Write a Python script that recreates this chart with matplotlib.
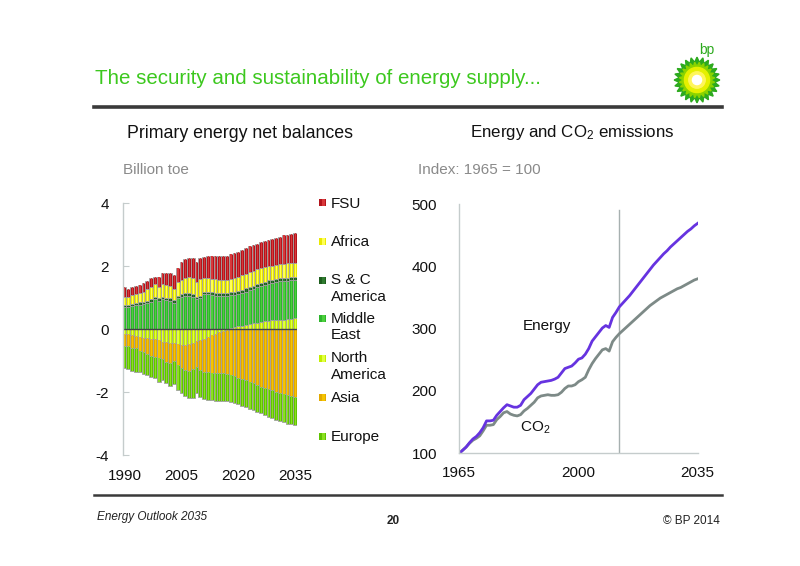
import numpy as np
import matplotlib
matplotlib.use("Agg")
import matplotlib.pyplot as plt
from matplotlib.lines import Line2D
from matplotlib.patches import Rectangle, Polygon, Circle

plt.rcParams['font.family'] = ['Liberation Sans', 'DejaVu Sans']
plt.rcParams['mathtext.default'] = 'regular'

# ---------------- data: primary energy net balances (Billion toe) ----------------
years = list(range(1990, 2036))
fsu = [0.29, 0.25, 0.24, 0.26, 0.26, 0.26, 0.27, 0.29, 0.24, 0.32,
       0.37, 0.39, 0.44, 0.44, 0.47, 0.56, 0.61, 0.62, 0.63, 0.64,
       0.66, 0.69, 0.71, 0.73, 0.75, 0.77, 0.77, 0.77, 0.79, 0.79,
       0.81, 0.82, 0.82, 0.82, 0.82, 0.82, 0.82, 0.83, 0.84, 0.85,
       0.87, 0.88, 0.90, 0.92, 0.93, 0.95]
africa = [0.27, 0.26, 0.28, 0.28, 0.29, 0.32, 0.37, 0.37, 0.39, 0.37,
          0.39, 0.40, 0.38, 0.35, 0.42, 0.45, 0.48, 0.51, 0.52, 0.45,
          0.52, 0.42, 0.42, 0.43, 0.43, 0.43, 0.42, 0.42, 0.42, 0.43,
          0.44, 0.45, 0.46, 0.47, 0.47, 0.47, 0.47, 0.46, 0.45, 0.44,
          0.43, 0.44, 0.45, 0.45, 0.45, 0.45]
sc_america = [0.07, 0.07, 0.07, 0.08, 0.08, 0.08, 0.08, 0.08, 0.08, 0.08,
              0.08, 0.08, 0.08, 0.08, 0.09, 0.09, 0.09, 0.09, 0.09, 0.09,
              0.09, 0.09, 0.09, 0.09, 0.09, 0.09, 0.09, 0.09, 0.09, 0.09,
              0.10, 0.10, 0.10, 0.10, 0.10, 0.10, 0.10, 0.10, 0.10, 0.10,
              0.10, 0.10, 0.10, 0.10, 0.10, 0.10]
middle_east = [0.69, 0.69, 0.73, 0.76, 0.77, 0.79, 0.81, 0.87, 0.95, 0.89,
               0.95, 0.92, 0.89, 0.84, 0.97, 1.02, 1.04, 1.04, 1.02, 0.94,
               0.97, 1.10, 1.10, 1.08, 1.06, 1.04, 1.04, 1.05, 1.05, 1.04,
               1.03, 1.04, 1.06, 1.07, 1.10, 1.12, 1.14, 1.16, 1.18, 1.20,
               1.22, 1.22, 1.22, 1.22, 1.22, 1.22]
north_america = [-0.17, -0.16, -0.19, -0.22, -0.25, -0.27, -0.30, -0.32, -0.33, -0.36,
                 -0.40, -0.42, -0.44, -0.46, -0.48, -0.50, -0.51, -0.48, -0.44, -0.38,
                 -0.36, -0.32, -0.26, -0.20, -0.15, -0.10, -0.06, -0.02, 0.02, 0.05,
                 0.08, 0.11, 0.13, 0.16, 0.18, 0.20, 0.22, 0.24, 0.26, 0.27,
                 0.28, 0.29, 0.30, 0.31, 0.33, 0.34]
asia = [-0.36, -0.39, -0.40, -0.39, -0.45, -0.45, -0.50, -0.53, -0.55, -0.57,
        -0.55, -0.62, -0.65, -0.56, -0.66, -0.75, -0.79, -0.85, -0.83, -0.82,
        -0.94, -1.03, -1.12, -1.19, -1.25, -1.31, -1.35, -1.40, -1.46, -1.50,
        -1.54, -1.59, -1.63, -1.68, -1.73, -1.78, -1.83, -1.87, -1.91, -1.95,
        -1.99, -2.03, -2.06, -2.09, -2.12, -2.15]
europe = [-0.72, -0.71, -0.74, -0.74, -0.68, -0.72, -0.66, -0.66, -0.69, -0.74,
          -0.67, -0.68, -0.71, -0.74, -0.80, -0.79, -0.82, -0.87, -0.91, -0.84,
          -0.85, -0.87, -0.86, -0.87, -0.88, -0.88, -0.88, -0.88, -0.86, -0.84,
          -0.84, -0.84, -0.85, -0.85, -0.85, -0.85, -0.85, -0.86, -0.87, -0.88,
          -0.89, -0.89, -0.90, -0.91, -0.91, -0.91]
left_xticks = [1990, 2005, 2020, 2035]
left_yticks = [-4, -2, 0, 2, 4]

# ---------------- data: energy and CO2 index (1965 = 100) ----------------
years2 = list(range(1965, 2036))
energy = [100, 105, 110, 117, 123, 127, 133, 141, 152, 152,
          153, 161, 167, 173, 178, 176, 174, 174, 177, 186,
          191, 196, 203, 210, 214, 215, 216, 217, 219, 222,
          229, 236, 238, 240, 245, 251, 253, 259, 268, 280,
          287, 294, 301, 305, 302, 318, 326, 335, 341, 347,
          353, 360, 367, 374, 381, 388, 395, 402, 408, 414,
          420, 425, 431, 436, 441, 446, 451, 456, 460, 465, 469]
co2 = [100, 105, 110, 116, 121, 124, 128, 136, 145, 145,
       146, 154, 159, 165, 167, 163, 161, 160, 162, 168,
       172, 177, 182, 189, 192, 193, 194, 193, 193, 194,
       198, 204, 208, 208, 210, 215, 218, 222, 234, 244,
       252, 259, 266, 268, 264, 279, 286, 292, 297, 302,
       307, 312, 317, 322, 327, 332, 337, 341, 345, 349,
       352, 355, 358, 361, 364, 366, 369, 372, 375, 378, 380]
right_xticks = [1965, 2000, 2035]
right_yticks = [100, 200, 300, 400, 500]
history_end = 2012

# ---------------- styles ----------------
col = {
    'FSU': ('#B3141C', '#D8373A'),
    'Africa': ('#E9E900', '#FFFF55'),
    'S & C\nAmerica': ('#1D5E1D', '#2F7A2F'),
    'Middle\nEast': ('#2DB52D', '#4CCF3C'),
    'North\nAmerica': ('#C2EE00', '#E2FF40'),
    'Asia': ('#E2A900', '#F5C400'),
    'Europe': ('#5FC300', '#8BE020'),
}
W, H = 800, 566
fig = plt.figure(figsize=(W / 100, H / 100), dpi=100)


def fx(px):
    return px / W


def fy(py):
    return 1 - py / H


# header
fig.text(fx(95), fy(79), 'The security and sustainability of energy supply...',
         color='#3CC81E', fontsize=14.8, va='center', ha='left')
fig.add_artist(Line2D([fx(94), fx(722)], [fy(107), fy(107)], color='#3a3a3a', lw=2.6))
fig.add_artist(Line2D([fx(94), fx(722)], [fy(495), fy(495)], color='#3a3a3a', lw=1.8))

# footer
fig.text(fx(97), fy(517), 'Energy Outlook 2035', fontsize=8.5, style='italic',
         color='#222222', va='center')
fig.text(fx(393), fy(521), '20', fontsize=8.5, fontweight='bold', color='#222222',
         va='center', ha='center')
fig.text(fx(720), fy(521), '\u00a9 BP 2014', fontsize=8.5, color='#222222',
         va='center', ha='right')

# logo
lax = fig.add_axes([fx(673), fy(104), fx(48), 48 / H])
lax.set_xlim(-1.05, 1.05)
lax.set_ylim(-1.05, 1.05)
lax.axis('off')
n = 24
ang = np.linspace(0, 2 * np.pi, 2 * n, endpoint=False)
rad = np.where(np.arange(2 * n) % 2 == 0, 1.0, 0.78)
lax.add_patch(Polygon(np.c_[rad * np.cos(ang), rad * np.sin(ang)], closed=True,
                      color='#2DAA1E'))
rad2 = np.where(np.arange(2 * n) % 2 == 0, 0.78, 0.6)
lax.add_patch(Polygon(np.c_[rad2 * np.cos(ang + 0.13), rad2 * np.sin(ang + 0.13)],
                      closed=True, color='#8CD400'))
lax.add_patch(Circle((0, 0), 0.55, color='#E5F000'))
lax.add_patch(Circle((0, 0), 0.36, color='#FFF65A'))
lax.add_patch(Circle((0, 0), 0.2, color='white'))
fig.text(fx(707), fy(50), 'bp', color='#2DAA1E', fontsize=10, ha='center', va='center')

# ---------------- left chart ----------------
ax = fig.add_axes([fx(122.7), fy(455), fx(297 - 122.7), 252 / H])
na = np.array(north_america)
na_pos = np.clip(na, 0, None)
na_neg = np.clip(na, None, 0)
x = np.array(years)

pos_series = [(na_pos, 'North\nAmerica'), (np.array(middle_east), 'Middle\nEast'),
              (np.array(sc_america), 'S & C\nAmerica'), (np.array(africa), 'Africa'),
              (np.array(fsu), 'FSU')]
neg_series = [(na_neg, 'North\nAmerica'), (np.array(asia), 'Asia'),
              (np.array(europe), 'Europe')]

for group in (pos_series, neg_series):
    bottom = np.zeros(len(years))
    for vals, name in group:
        dark, light = col[name]
        ax.bar(x, vals, bottom=bottom, width=1.0, color=dark,
               edgecolor='#a3a3a3', linewidth=0.6)
        ax.bar(x + 0.08, vals, bottom=bottom, width=0.3, color=light,
               edgecolor='none', linewidth=0)
        bottom = bottom + vals

ax.axhline(0, color='#444444', lw=1.0)
ax.set_xlim(1989.5, 2035.5)
ax.set_ylim(-4, 4)
ax.set_xticks(left_xticks)
ax.set_xticklabels([str(v) for v in left_xticks])
ax.set_yticks(left_yticks)
ax.set_yticklabels([str(v) for v in left_yticks])
for s in ['top', 'right', 'bottom']:
    ax.spines[s].set_visible(False)
ax.spines['left'].set_color('#c5cccc')
ax.spines['left'].set_linewidth(1.0)
ax.tick_params(axis='y', direction='in', length=4, color='#c5cccc', pad=10,
               labelsize=11, labelcolor='#111111')
ax.tick_params(axis='x', length=0, pad=10, labelsize=11, labelcolor='#111111')

fig.text(fx(240), fy(133), 'Primary energy net balances', fontsize=12.8,
         ha='center', va='center', color='#111111')
fig.text(fx(123), fy(170), 'Billion toe', fontsize=11, ha='left', va='center',
         color='#8a8a8a')

# legend
legend_items = [('FSU', 203), ('Africa', 241.5), ('S & C\nAmerica', 280),
                ('Middle\nEast', 318.5), ('North\nAmerica', 358), ('Asia', 397),
                ('Europe', 436.5)]
for name, yc in legend_items:
    dark, light = col[name]
    fig.add_artist(Rectangle((fx(319), fy(yc + 3.5)), fx(7), 7 / H,
                             facecolor=dark, edgecolor='none'))
    fig.add_artist(Rectangle((fx(322), fy(yc + 3.5)), fx(2.5), 7 / H,
                             facecolor=light, edgecolor='none'))
    fig.text(fx(331), fy(yc - 6.5), name, fontsize=11, ha='left', va='top',
             color='#111111', linespacing=1.2)

# ---------------- right chart ----------------
ax2 = fig.add_axes([fx(459.3), fy(453.3), fx(697.7 - 459.3), 249.3 / H])
ax2.plot([history_end, history_end], [100, 490], color='#a7b0b0', lw=1.0)
ax2.plot(years2, co2, color='#7D8A87', lw=2.0, solid_joinstyle='round')
ax2.plot(years2, energy, color='#6633E0', lw=2.0, solid_joinstyle='round')
ax2.set_xlim(1965, 2035)
ax2.set_ylim(100, 500)
ax2.set_xticks(right_xticks)
ax2.set_xticklabels([str(v) for v in right_xticks])
ax2.set_yticks(right_yticks)
ax2.set_yticklabels([str(v) for v in right_yticks])
for s in ['top', 'right']:
    ax2.spines[s].set_visible(False)
for s in ['left', 'bottom']:
    ax2.spines[s].set_color('#c5cccc')
    ax2.spines[s].set_linewidth(1.0)
ax2.tick_params(axis='y', length=0, pad=16, labelsize=11, labelcolor='#111111')
ax2.tick_params(axis='x', length=0, pad=9, labelsize=11, labelcolor='#111111')
ax2.text(1990.8, 304, 'Energy', fontsize=11, ha='center', va='center', color='#111111')
ax2.text(1982.8, 141, 'CO$_2$', fontsize=11, ha='left', va='center', color='#111111')

fig.text(fx(572), fy(133), 'Energy and CO$_2$ emissions', fontsize=12.2,
         ha='center', va='center', color='#111111')
fig.text(fx(418), fy(170), 'Index: 1965 = 100', fontsize=11, ha='left', va='center',
         color='#8a8a8a')

fig.savefig('out.png', dpi=100)
